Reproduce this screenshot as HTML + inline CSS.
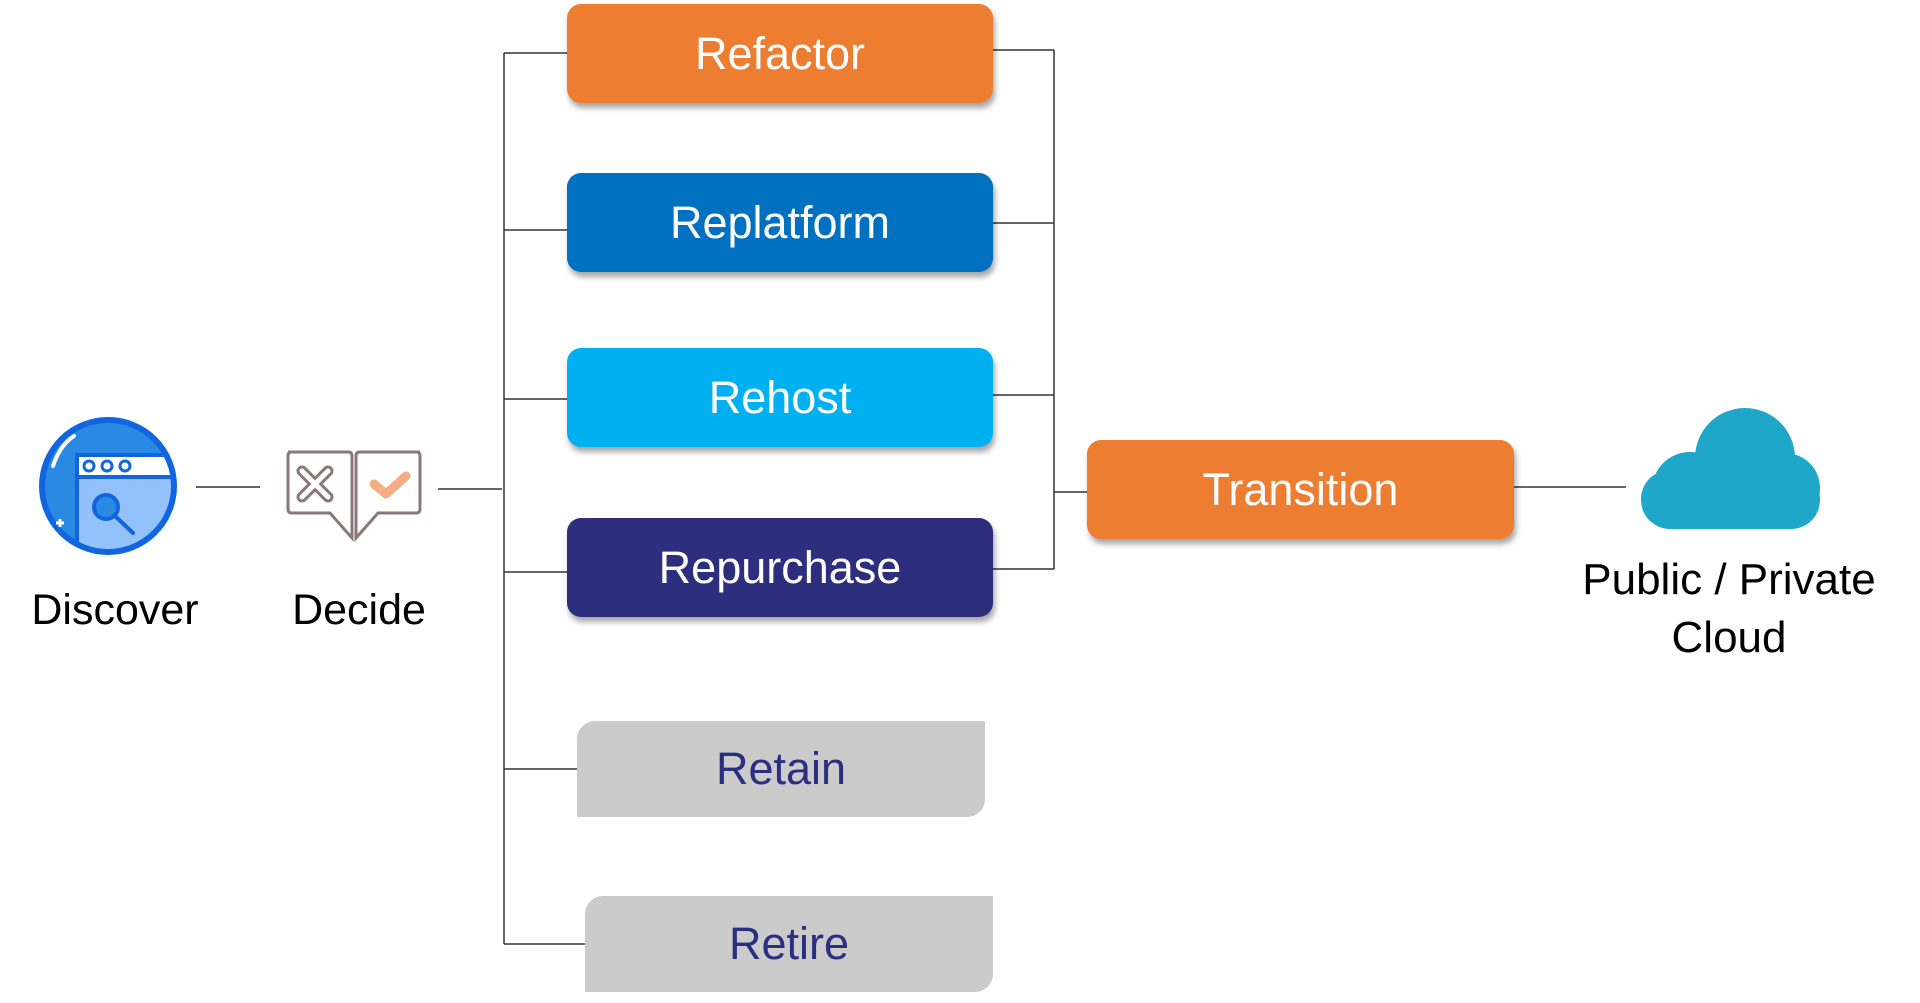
<!DOCTYPE html>
<html><head><meta charset="utf-8"><style>
body{margin:0;width:1920px;height:1003px;background:#fff;position:relative;overflow:hidden;font-family:"Liberation Sans",sans-serif}
.b{position:absolute;display:flex;align-items:center;justify-content:center;color:#fff;font-size:45px;border-radius:14px;box-shadow:2px 5px 6px rgba(0,0,0,.35)}
.g{position:absolute;display:flex;align-items:center;justify-content:center;color:#2b2f80;font-size:45px;background:#cbcbcb;border-radius:18px 0 18px 0}
.t{position:absolute;font-size:43px;color:#000;text-align:center;line-height:58px}
</style></head><body>
<svg width="1920" height="1003" style="position:absolute;left:0;top:0">
<defs><clipPath id="c"><circle cx="108" cy="486" r="66"/></clipPath></defs>
<g stroke="#333" stroke-width="1.5" fill="none">
<line x1="504" y1="53" x2="504" y2="944"/>
<line x1="504" y1="53" x2="567" y2="53"/><line x1="504" y1="230" x2="567" y2="230"/>
<line x1="504" y1="399" x2="567" y2="399"/><line x1="504" y1="572" x2="567" y2="572"/>
<line x1="504" y1="769" x2="577" y2="769"/><line x1="504" y1="944" x2="585" y2="944"/>
<line x1="1054" y1="50" x2="1054" y2="569"/>
<line x1="993" y1="50" x2="1054" y2="50"/><line x1="993" y1="223" x2="1054" y2="223"/>
<line x1="993" y1="395" x2="1054" y2="395"/><line x1="993" y1="569" x2="1054" y2="569"/>
<line x1="1054" y1="492" x2="1087" y2="492"/>
<line x1="1514" y1="487" x2="1626" y2="487"/>
<line x1="196" y1="487" x2="260" y2="487"/><line x1="438" y1="489" x2="502" y2="489"/>
</g>
<!-- discover icon -->
<circle cx="108" cy="486" r="66" fill="#2a8ae3"/>
<g clip-path="url(#c)">
<path d="M77 570 L77 463 Q77 455 85 455 L180 455 L180 570 Z" fill="#93c2fb" stroke="#1166e0" stroke-width="4"/>
<rect x="77" y="455" width="105" height="22" fill="#fff" stroke="#1166e0" stroke-width="4"/>
</g>
<circle cx="108" cy="486" r="66" fill="none" stroke="#1166e0" stroke-width="6"/>
<circle cx="89" cy="466" r="5" fill="#fff" stroke="#1166e0" stroke-width="3"/>
<circle cx="107" cy="466" r="5" fill="#fff" stroke="#1166e0" stroke-width="3"/>
<circle cx="125" cy="466" r="5" fill="#fff" stroke="#1166e0" stroke-width="3"/>
<circle cx="106" cy="507" r="12" fill="#2a8ae3" stroke="#1166e0" stroke-width="4"/>
<line x1="115" y1="516" x2="133" y2="533" stroke="#1166e0" stroke-width="4" stroke-linecap="round"/>
<path d="M53 466 Q60 445 74 436" stroke="#fff" stroke-width="4" fill="none" stroke-linecap="round"/>
<path d="M56 523 h8 M60 519 v8" stroke="#fff" stroke-width="3"/>
<!-- decide icon -->
<path d="M288 452 h60 q4 0 4 4 v82 l-22 -25 h-38 q-4 0 -4 -4 v-53 q0 -4 4 -4z" fill="#fff" stroke="#8a7878" stroke-width="3"/>
<path d="M420 452 h-60 q-4 0 -4 4 v82 l22 -25 h38 q4 0 4 -4 v-53 q0 -4 -4 -4z" fill="#fff" stroke="#8a7878" stroke-width="3"/>
<path d="M302 471 l26 26 M328 471 l-26 26" stroke="#8a7878" stroke-width="11" stroke-linecap="round"/>
<path d="M302 471 l26 26 M328 471 l-26 26" stroke="#fff" stroke-width="5" stroke-linecap="round"/>
<path d="M374 484 l12 10 l20 -18" stroke="#f6ad85" stroke-width="9" fill="none" stroke-linecap="round" stroke-linejoin="round"/>
<!-- cloud -->
<g fill="#1fa7c9">
<circle cx="1745" cy="458" r="50"/><circle cx="1690" cy="490" r="38"/><circle cx="1785" cy="488" r="35"/>
<rect x="1641" y="470" width="179" height="59" rx="29"/>
</g>
</svg>
<div class="b" style="left:567px;top:4px;width:426px;height:99px;background:#ed7d31">Refactor</div>
<div class="b" style="left:567px;top:173px;width:426px;height:99px;background:#0070c0">Replatform</div>
<div class="b" style="left:567px;top:348px;width:426px;height:99px;background:#00b0f0">Rehost</div>
<div class="b" style="left:567px;top:518px;width:426px;height:99px;background:#2e2e7f">Repurchase</div>
<div class="b" style="left:1087px;top:440px;width:427px;height:99px;background:#ed7d31">Transition</div>
<div class="g" style="left:577px;top:721px;width:408px;height:96px">Retain</div>
<div class="g" style="left:585px;top:896px;width:408px;height:96px">Retire</div>
<div class="t" style="left:5px;top:581px;width:220px">Discover</div>
<div class="t" style="left:249px;top:581px;width:220px">Decide</div>
<div class="t" style="left:1549px;top:551px;width:360px;font-size:44px">Public / Private<br>Cloud</div>
</body></html>
